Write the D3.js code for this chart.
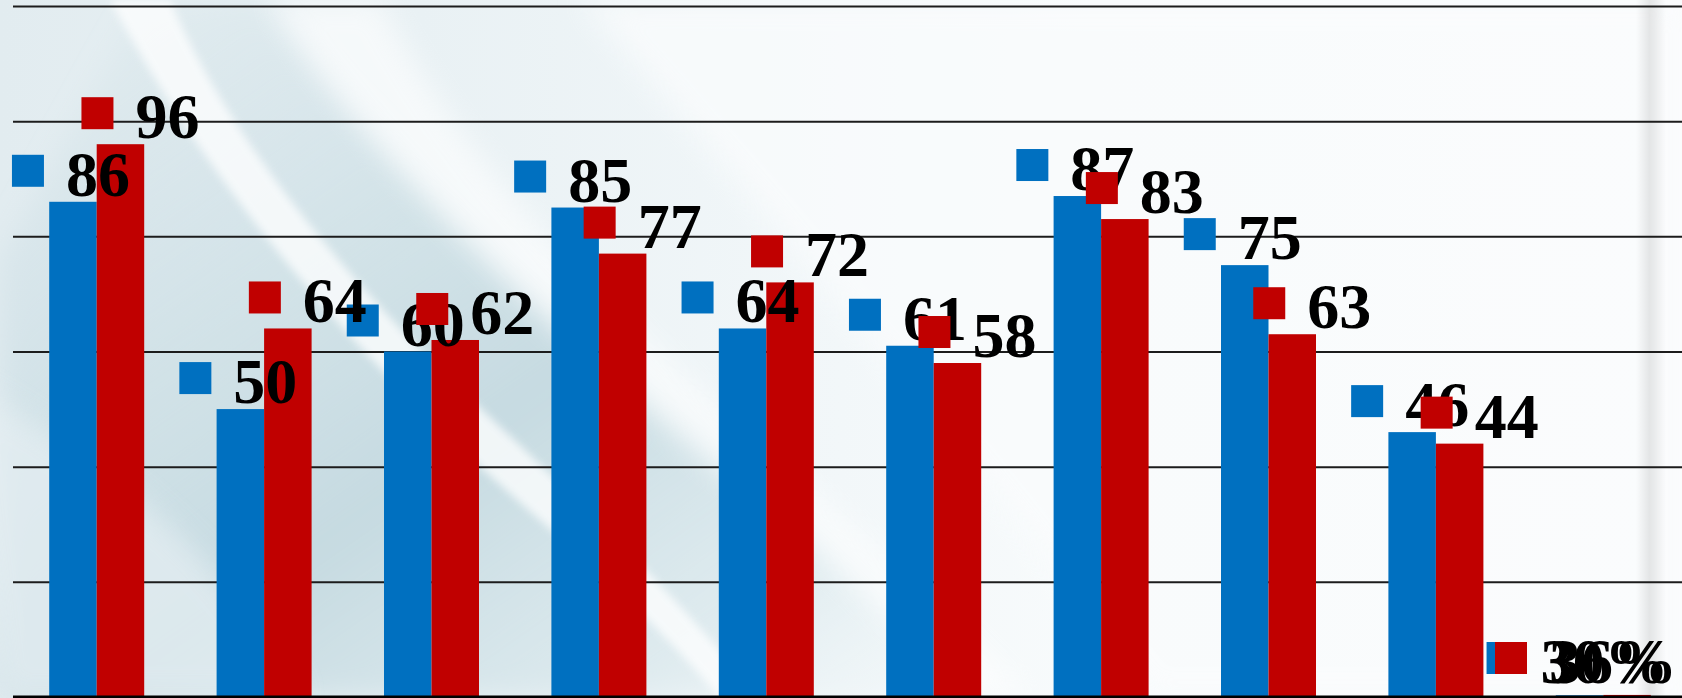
<!DOCTYPE html>
<html>
<head>
<meta charset="utf-8">
<script src="https://cdn.jsdelivr.net/npm/d3@7"></script>
<style>
html,body{margin:0;padding:0;background:#fff;overflow:hidden;}
svg{display:block;}
</style>
</head>
<body>
<svg id="chart" width="1682" height="698"></svg>
<script>
// ---- data ----
const categories = ["类别1","类别2","类别3","类别4","类别5","类别6","类别7","类别8","类别9","类别10"];
const seriesNames = ["系列1","系列2"];
const series1Values = [86, 50, 60, 85, 64, 61, 87, 75, 46, 0.30];
const series2Values = [96, 64, 62, 77, 72, 58, 83, 63, 44, 0.36];
const series1Labels = ["86","50","60","85","64","61","87","75","46","30%"];
const series2Labels = ["96","64","62","77","72","58","83","63","44","36%"];
const yTicks = [0, 20, 40, 60, 80, 100, 120];

// ---- layout / style ----
const W = 1682, H = 698;
const plot = {left: 13, right: 1687, top: 6, bottom: 697};
const colors = ["#0070C0", "#C00000"];
const labelDx = [-2, 20];
const fontSize = 64;
const keySize = 32, keyGap = 22;

const svg = d3.select("#chart");
const defs = svg.append("defs");

// background gradients
const g1 = defs.append("linearGradient").attr("id","bgBase").attr("x1","0").attr("y1","0").attr("x2","1").attr("y2","0");
[[0,"#e2ecf0"],[0.25,"#e9f1f4"],[0.5,"#f2f7f9"],[0.65,"#f8fbfc"],[1,"#fbfcfd"]].forEach(([o,c])=>g1.append("stop").attr("offset",o).attr("stop-color",c));
const g2 = defs.append("linearGradient").attr("id","bgDark").attr("x1","0").attr("y1","0").attr("x2","1").attr("y2","1");
[[0,"#c2d8df",0.0],[0.3,"#c3d9e0",0.5],[0.55,"#c2d8df",0.9],[0.8,"#d3e4e9",0.6],[1,"#eef5f7",0]].forEach(([o,c,a])=>g2.append("stop").attr("offset",o).attr("stop-color",c).attr("stop-opacity",a));
const shade = defs.append("linearGradient").attr("id","edgeShade").attr("x1","0").attr("y1","0").attr("x2","1").attr("y2","0");
[[0,"#000",0],[0.45,"#000",0.09],[0.6,"#000",0.07],[1,"#000",0]].forEach(([o,c,a])=>shade.append("stop").attr("offset",o).attr("stop-color",c).attr("stop-opacity",a));
defs.append("filter").attr("id","blur").attr("x","-20%").attr("y","-20%").attr("width","140%").attr("height","140%")
  .append("feGaussianBlur").attr("stdDeviation", 14);
defs.append("filter").attr("id","blurS").attr("x","-20%").attr("y","-20%").attr("width","140%").attr("height","140%")
  .append("feGaussianBlur").attr("stdDeviation", 4);

const bg = svg.append("g");
bg.append("rect").attr("width",W).attr("height",H).attr("fill","url(#bgBase)");
bg.append("path").attr("d","M0,260 L0,698 L1000,698 C880,580 700,440 520,280 C420,180 330,90 260,0 L140,0 Z")
  .attr("fill","url(#bgDark)").attr("filter","url(#blur)");
bg.append("path").attr("d","M-40,380 C120,470 230,560 300,698 L0,698 Z").attr("fill","#e6eff3").attr("opacity",0.7).attr("filter","url(#blur)");
// white swooshes
bg.append("path").attr("d","M110,0 C190,150 320,330 540,520 C620,590 680,650 720,698 L760,698 C680,600 580,500 450,380 C320,250 220,120 170,0 Z")
  .attr("fill","#ffffff").attr("opacity",0.75).attr("filter","url(#blurS)");
bg.append("path").attr("d","M270,0 C370,160 540,330 780,520 C860,590 920,650 970,698 L1030,698 C940,600 820,500 700,390 C540,240 440,120 380,0 Z")
  .attr("fill","#ffffff").attr("opacity",0.6).attr("filter","url(#blur)");
bg.append("path").attr("d","M580,0 L1682,0 L1682,698 L1150,698 C1000,500 800,250 580,0 Z")
  .attr("fill","#fafcfd").attr("opacity",0.75).attr("filter","url(#blur)");
bg.append("rect").attr("x",1636).attr("y",0).attr("width",30).attr("height",H).attr("fill","url(#edgeShade)");

// ---- scales ----
const x0 = d3.scaleBand().domain(categories).range([plot.left, plot.right]).paddingInner(0.4325).paddingOuter(0.21625);
const x1 = d3.scaleBand().domain(seriesNames).range([0, x0.bandwidth()]).padding(0);
const y = d3.scaleLinear().domain([0, 120]).range([plot.bottom, plot.top]);

// ---- gridlines via axis ----
const gridAxis = d3.axisLeft(y).tickValues(yTicks.filter(v=>v>0)).tickSize(-(W - plot.left)).tickFormat("");
const grid = svg.append("g").attr("transform",`translate(${plot.left},0)`).call(gridAxis);
grid.select(".domain").remove();
grid.selectAll(".tick line").attr("stroke","#1c1c1c").attr("stroke-width",2);

// ---- bars ----
const data = categories.map((c,i)=>({cat:c, vals:[series1Values[i], series2Values[i]], labels:[series1Labels[i], series2Labels[i]]}));
const groups = svg.append("g").selectAll("g").data(data).join("g")
  .attr("transform", d=>`translate(${x0(d.cat)},0)`);
groups.selectAll("rect").data(d=>d.vals.map((v,k)=>({v,k}))).join("rect")
  .attr("x", d=>x1(seriesNames[d.k]))
  .attr("y", d=>y(d.v))
  .attr("width", x1.bandwidth())
  .attr("height", d=>y(0)-y(d.v))
  .attr("fill", d=>colors[d.k]);

// baseline
const base = d3.axisBottom(x0).tickSize(0).tickFormat("");
const bAx = svg.append("g").attr("transform",`translate(0,${y(0)})`).call(base);
bAx.select(".domain").attr("stroke","#000").attr("stroke-width",3).attr("d",`M${plot.left},0H${W}`);

// ---- data labels (legend key + value) ----
const labelLayer = svg.append("g");
const rightLimit = 1677;
[0,1].forEach(k=>{
  data.forEach(d=>{
    const cx = x0(d.cat) + x1(seriesNames[k]) + x1.bandwidth()/2 + labelDx[k];
    const g = labelLayer.append("g");
    const t = g.append("text").text(d.labels[k])
      .attr("font-family","'Liberation Serif','Times New Roman',serif")
      .attr("font-weight","bold").attr("font-size",fontSize).attr("fill","#000");
    const tw = t.node().getComputedTextLength();
    const total = keySize + keyGap + tw;
    let left = cx - total/2;
    if (left + total > rightLimit) left = rightLimit - total;
    const baseline = Math.min(y(d.vals[k]) - 6, plot.bottom - 14);
    t.attr("x", left + keySize + keyGap).attr("y", baseline);
    g.insert("rect","text").attr("x", left).attr("y", baseline - 25 - keySize/2)
      .attr("width", keySize).attr("height", keySize).attr("fill", colors[k]);
  });
});
</script>
</body>
</html>
